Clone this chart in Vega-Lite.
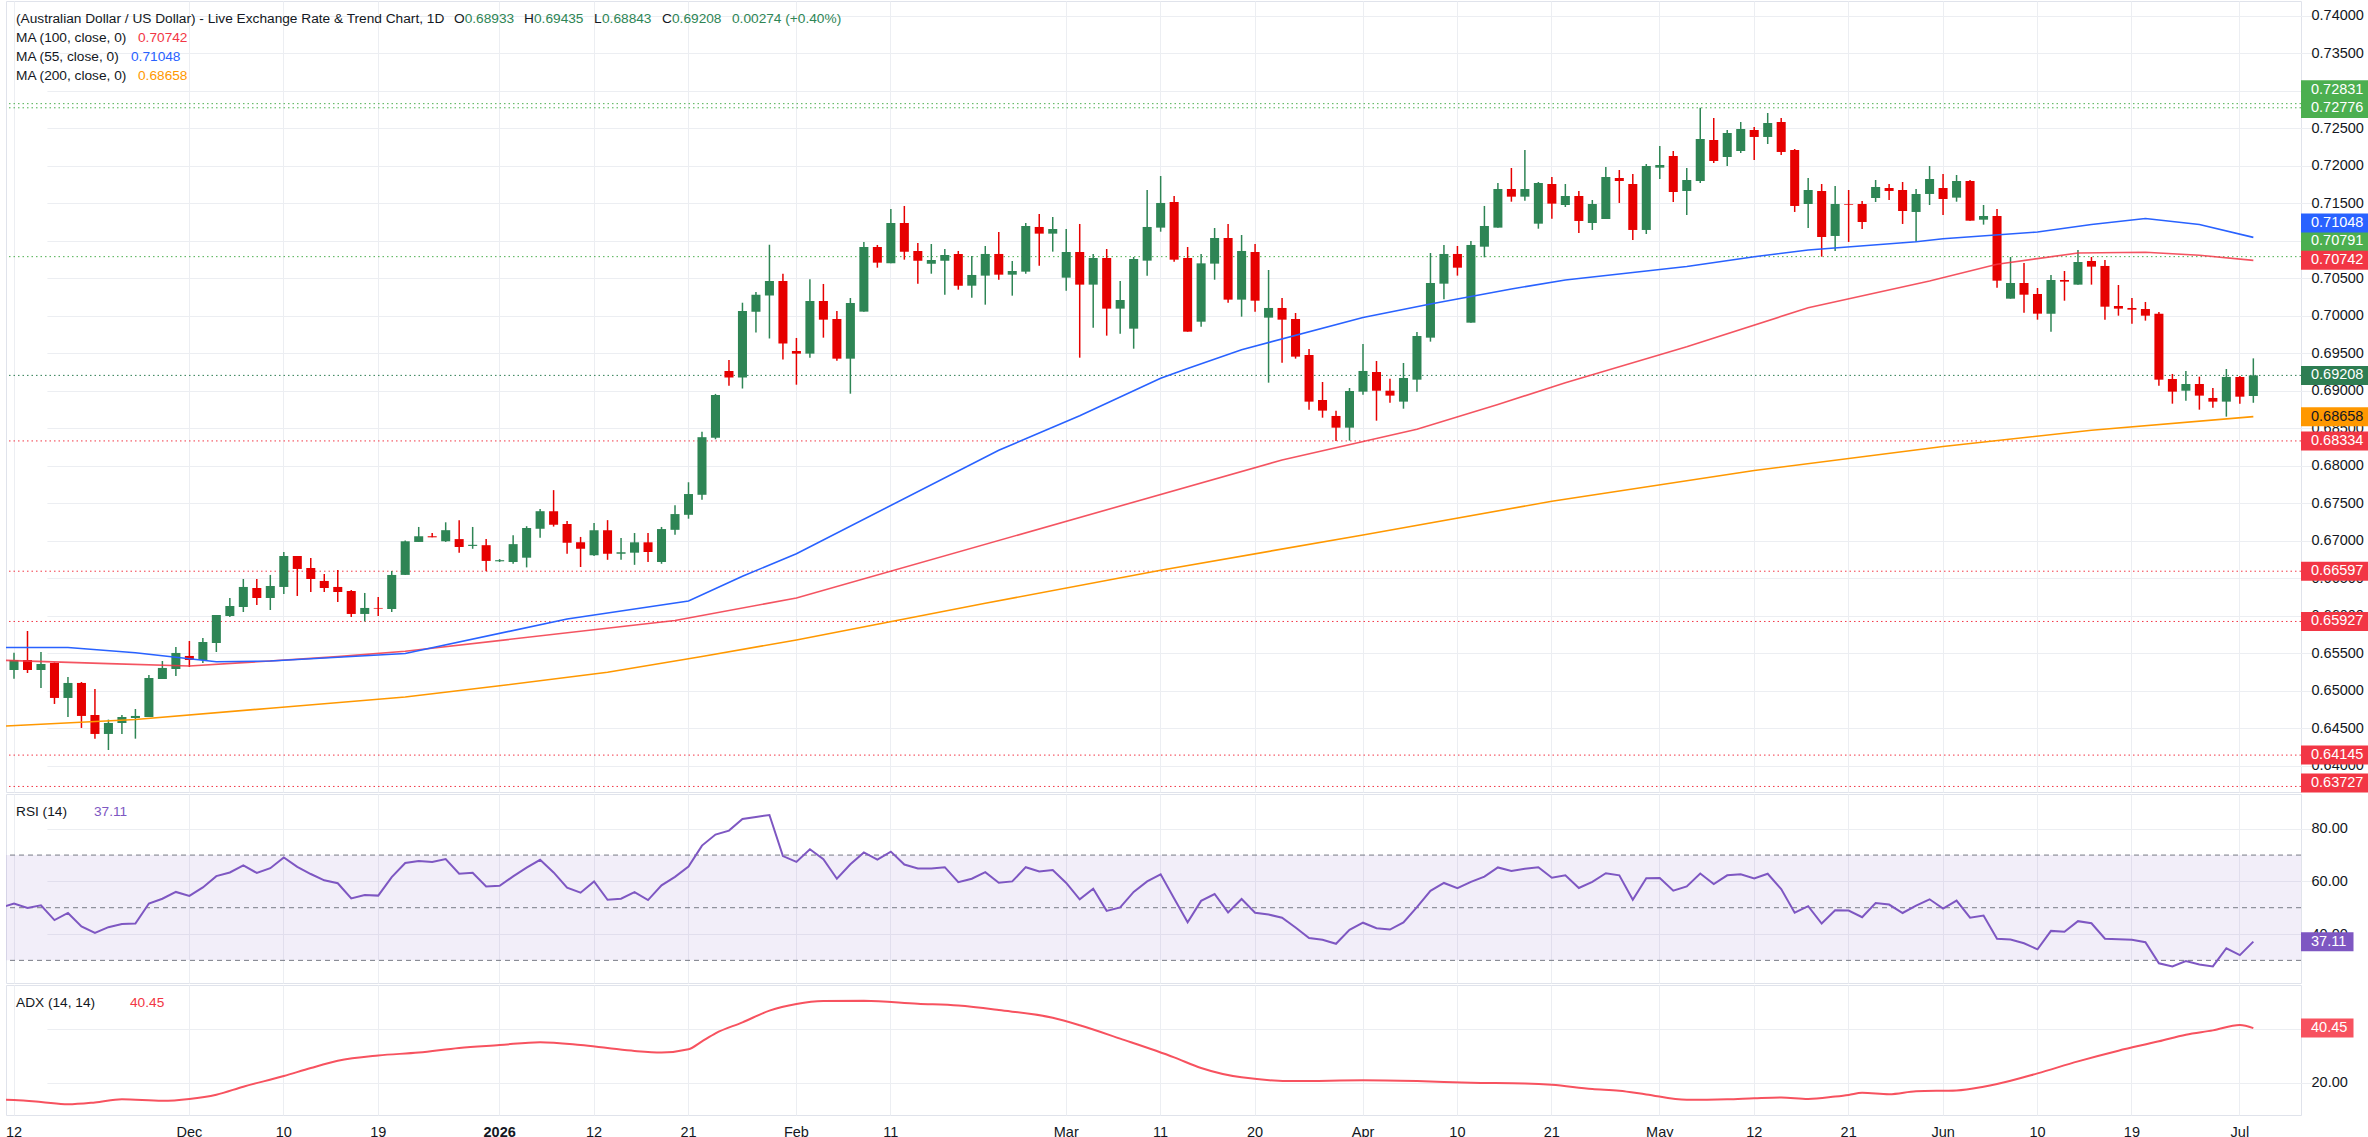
{
  "$schema": "https://vega.github.io/schema/vega-lite/v6.json",
  "padding": 0,
  "background": "#ffffff",
  "spacing": 0,
  "config": {
    "view": {"stroke": "#e0e3eb", "strokeWidth": 1},
    "font": "Liberation Sans",
    "axis": {"labelFont": "Liberation Sans", "labelFontSize": 14.5, "labelColor": "#131722", "gridColor": "#eceef2", "gridWidth": 1, "domain": false, "ticks": false, "title": null}
  },
  "resolve": {"scale": {"x": "shared"}},
  "datasets": {
    "bars": [
      {"d":"2025-11-11","rsi":50,"ma55":0.6558,"ma100":0.6541,"ma200":0.6453,"adx":13.6},
      {"d":"2025-11-12","o":0.6528,"h":0.65511,"l":0.65164,"c":0.65413,"rsi":51.6,"adx":13.5},
      {"d":"2025-11-13","o":0.65413,"h":0.658,"l":0.6524,"c":0.6528,"rsi":49.9},
      {"d":"2025-11-14","o":0.6528,"h":0.6552,"l":0.6504,"c":0.6536,"rsi":50.9,"adx":12.8},
      {"d":"2025-11-17","o":0.65373,"h":0.6538,"l":0.64827,"c":0.64907,"rsi":45.3},
      {"d":"2025-11-18","o":0.64907,"h":0.65187,"l":0.64653,"c":0.65107,"rsi":48.0,"ma55":0.6558,"adx":11.9},
      {"d":"2025-11-19","o":0.65107,"h":0.6512,"l":0.64507,"c":0.64667,"rsi":42.9},
      {"d":"2025-11-20","o":0.6468,"h":0.65027,"l":0.64364,"c":0.64427,"rsi":40.4,"adx":12.6},
      {"d":"2025-11-21","o":0.64427,"h":0.64618,"l":0.64213,"c":0.64573,"rsi":42.6,"ma100":0.65365},
      {"d":"2025-11-24","o":0.64573,"h":0.6468,"l":0.64427,"c":0.64653,"rsi":43.8,"adx":13.8},
      {"d":"2025-11-25","o":0.6464,"h":0.6476,"l":0.64364,"c":0.64667,"rsi":44.0,"ma55":0.6551,"ma200":0.6462},
      {"d":"2025-11-26","o":0.64653,"h":0.65213,"l":0.64653,"c":0.65173,"rsi":51.6},
      {"d":"2025-11-27","o":0.6516,"h":0.654,"l":0.6516,"c":0.65307,"rsi":53.4,"adx":13.2},
      {"d":"2025-11-28","o":0.65293,"h":0.65587,"l":0.652,"c":0.65507,"rsi":56.0},
      {"d":"2025-12-01","o":0.65467,"h":0.65667,"l":0.6532,"c":0.65413,"rsi":54.5,"ma55":0.6543,"ma100":0.65333,"adx":13.9},
      {"d":"2025-12-02","o":0.65413,"h":0.65707,"l":0.65373,"c":0.65653,"rsi":57.7},
      {"d":"2025-12-03","o":0.6564,"h":0.66013,"l":0.6552,"c":0.66013,"rsi":62.0,"ma55":0.6539,"adx":15.5},
      {"d":"2025-12-04","o":0.66,"h":0.6624,"l":0.65987,"c":0.66133,"rsi":63.4},
      {"d":"2025-12-05","o":0.6612,"h":0.66493,"l":0.66053,"c":0.66387,"rsi":66.1,"ma100":0.65378,"adx":18.5},
      {"d":"2025-12-08","o":0.66373,"h":0.66493,"l":0.66147,"c":0.6624,"rsi":63.2},
      {"d":"2025-12-09","o":0.6624,"h":0.66547,"l":0.6608,"c":0.664,"rsi":65.0,"ma55":0.654,"ma200":0.6477},
      {"d":"2025-12-10","o":0.66387,"h":0.66853,"l":0.66293,"c":0.668,"rsi":69.1,"adx":22.5},
      {"d":"2025-12-11","o":0.668,"h":0.668,"l":0.66267,"c":0.66627,"rsi":65.5},
      {"d":"2025-12-12","o":0.6664,"h":0.66773,"l":0.6632,"c":0.66493,"rsi":62.8,"adx":25.5},
      {"d":"2025-12-15","o":0.66467,"h":0.6656,"l":0.6632,"c":0.66373,"rsi":60.4},
      {"d":"2025-12-16","o":0.66387,"h":0.66613,"l":0.66187,"c":0.6632,"rsi":59.3,"ma55":0.6545,"ma100":0.65458,"adx":28.2},
      {"d":"2025-12-17","o":0.66333,"h":0.66347,"l":0.65987,"c":0.66027,"rsi":53.5},
      {"d":"2025-12-18","o":0.66027,"h":0.66307,"l":0.65927,"c":0.66107,"rsi":54.8},
      {"d":"2025-12-19","o":0.66107,"h":0.66253,"l":0.66,"c":0.66098,"rsi":54.6,"adx":30.2},
      {"d":"2025-12-22","o":0.66093,"h":0.666,"l":0.66053,"c":0.66547,"rsi":61.6},
      {"d":"2025-12-23","o":0.66548,"h":0.67006,"l":0.66548,"c":0.66996,"rsi":67.0,"ma55":0.655,"ma100":0.65529,"ma200":0.6492},
      {"d":"2025-12-24","o":0.66987,"h":0.67187,"l":0.66987,"c":0.67063,"rsi":67.7,"adx":31.3},
      {"d":"2025-12-25","o":0.67063,"h":0.67106,"l":0.67049,"c":0.67049,"rsi":67.4},
      {"d":"2025-12-26","o":0.66996,"h":0.67249,"l":0.66987,"c":0.67144,"rsi":68.5},
      {"d":"2025-12-29","o":0.67025,"h":0.67278,"l":0.66844,"c":0.6692,"rsi":62.9,"adx":33.0},
      {"d":"2025-12-30","o":0.66934,"h":0.67187,"l":0.66896,"c":0.66949,"rsi":63.3},
      {"d":"2025-12-31","o":0.66944,"h":0.67025,"l":0.66597,"c":0.66734,"rsi":58.1},
      {"d":"2026-01-01","o":0.66729,"h":0.66758,"l":0.6672,"c":0.66744,"rsi":58.3,"ma200":0.6507,"adx":34.1},
      {"d":"2026-01-02","o":0.6672,"h":0.67078,"l":0.66696,"c":0.66958,"rsi":61.9},
      {"d":"2026-01-05","o":0.66777,"h":0.67197,"l":0.66648,"c":0.67173,"rsi":65.2},
      {"d":"2026-01-06","o":0.67163,"h":0.67426,"l":0.67044,"c":0.67397,"rsi":68.2,"adx":35.2},
      {"d":"2026-01-07","o":0.67397,"h":0.67678,"l":0.67192,"c":0.67216,"rsi":63.4},
      {"d":"2026-01-08","o":0.67225,"h":0.67268,"l":0.6683,"c":0.66977,"rsi":57.6,"ma55":0.6596},
      {"d":"2026-01-09","o":0.66982,"h":0.67054,"l":0.66653,"c":0.66896,"rsi":55.7,"adx":34.1},
      {"d":"2026-01-12","o":0.66811,"h":0.6724,"l":0.66801,"c":0.67144,"rsi":60.0},
      {"d":"2026-01-13","o":0.67144,"h":0.67278,"l":0.66749,"c":0.6683,"rsi":53.0,"ma200":0.6525,"adx":33.0},
      {"d":"2026-01-14","o":0.6683,"h":0.6704,"l":0.66749,"c":0.66849,"rsi":53.4},
      {"d":"2026-01-15","o":0.66844,"h":0.67106,"l":0.66682,"c":0.66982,"rsi":55.9,"adx":31.9},
      {"d":"2026-01-16","o":0.66982,"h":0.67106,"l":0.6672,"c":0.66853,"rsi":52.9},
      {"d":"2026-01-19","o":0.6672,"h":0.67187,"l":0.66696,"c":0.67159,"rsi":58.5,"adx":31.3},
      {"d":"2026-01-20","o":0.67149,"h":0.67478,"l":0.67082,"c":0.67359,"rsi":61.7,"ma100":0.6594},
      {"d":"2026-01-21","o":0.67349,"h":0.67783,"l":0.67297,"c":0.67626,"rsi":65.6,"ma55":0.662,"adx":32.5},
      {"d":"2026-01-22","o":0.67616,"h":0.68456,"l":0.6755,"c":0.68384,"rsi":73.6,"ma200":0.6546,"adx":35.5},
      {"d":"2026-01-23","o":0.68375,"h":0.68961,"l":0.68356,"c":0.68947,"rsi":77.8,"adx":38.5},
      {"d":"2026-01-26","o":0.69266,"h":0.69414,"l":0.69071,"c":0.6918,"rsi":79.3},
      {"d":"2026-01-27","o":0.6918,"h":0.70177,"l":0.69033,"c":0.70067,"rsi":83.7,"ma55":0.6653,"adx":42.6},
      {"d":"2026-01-28","o":0.70058,"h":0.7032,"l":0.69781,"c":0.70282,"rsi":84.5},
      {"d":"2026-01-29","o":0.70272,"h":0.7095,"l":0.697,"c":0.70468,"rsi":85.2,"adx":47.0},
      {"d":"2026-01-30","o":0.70468,"h":0.70563,"l":0.69419,"c":0.69633,"rsi":69.6},
      {"d":"2026-02-02","o":0.69533,"h":0.69707,"l":0.69084,"c":0.69498,"rsi":67.4,"ma55":0.6683,"ma100":0.6624,"ma200":0.6568,"adx":49.5},
      {"d":"2026-02-03","o":0.69498,"h":0.70489,"l":0.69444,"c":0.702,"rsi":72.2},
      {"d":"2026-02-04","o":0.702,"h":0.70427,"l":0.69711,"c":0.69951,"rsi":68.4,"adx":50.6},
      {"d":"2026-02-05","o":0.6996,"h":0.70067,"l":0.69404,"c":0.69431,"rsi":61.0},
      {"d":"2026-02-06","o":0.69431,"h":0.7024,"l":0.68964,"c":0.70173,"rsi":66.5},
      {"d":"2026-02-09","o":0.70058,"h":0.70987,"l":0.70058,"c":0.7092,"rsi":71.0,"adx":50.7},
      {"d":"2026-02-10","o":0.7092,"h":0.70947,"l":0.70644,"c":0.70711,"rsi":68.3},
      {"d":"2026-02-11","o":0.70702,"h":0.71427,"l":0.70702,"c":0.7124,"rsi":71.3},
      {"d":"2026-02-12","o":0.7124,"h":0.71467,"l":0.70751,"c":0.70858,"rsi":66.4},
      {"d":"2026-02-13","o":0.70867,"h":0.70973,"l":0.70431,"c":0.70738,"rsi":64.9,"adx":49.6},
      {"d":"2026-02-16","o":0.70698,"h":0.7096,"l":0.70564,"c":0.70747,"rsi":64.9},
      {"d":"2026-02-17","o":0.70738,"h":0.70893,"l":0.70284,"c":0.70813,"rsi":65.4},
      {"d":"2026-02-18","o":0.70827,"h":0.70867,"l":0.70351,"c":0.70404,"rsi":59.7,"adx":48.9},
      {"d":"2026-02-19","o":0.70404,"h":0.708,"l":0.70244,"c":0.70547,"rsi":61.0},
      {"d":"2026-02-20","o":0.70538,"h":0.70933,"l":0.70151,"c":0.70827,"rsi":63.5,"ma200":0.6617},
      {"d":"2026-02-23","o":0.70827,"h":0.7112,"l":0.70484,"c":0.70551,"rsi":59.5,"ma55":0.6821,"adx":47.2},
      {"d":"2026-02-24","o":0.70551,"h":0.70733,"l":0.70271,"c":0.706,"rsi":60.0},
      {"d":"2026-02-25","o":0.70591,"h":0.7124,"l":0.70564,"c":0.712,"rsi":65.4},
      {"d":"2026-02-26","o":0.71187,"h":0.7136,"l":0.70671,"c":0.71098,"rsi":63.8},
      {"d":"2026-02-27","o":0.71098,"h":0.7132,"l":0.70858,"c":0.7116,"rsi":64.3,"adx":44.3},
      {"d":"2026-03-02","o":0.70511,"h":0.7116,"l":0.70338,"c":0.70853,"rsi":59.4},
      {"d":"2026-03-03","o":0.70853,"h":0.71227,"l":0.69444,"c":0.70418,"rsi":53.2,"ma55":0.6867,"adx":41.5},
      {"d":"2026-03-04","o":0.70418,"h":0.70827,"l":0.69844,"c":0.70773,"rsi":57.2},
      {"d":"2026-03-05","o":0.70773,"h":0.70893,"l":0.69738,"c":0.70098,"rsi":48.8},
      {"d":"2026-03-06","o":0.70098,"h":0.70467,"l":0.69764,"c":0.70213,"rsi":50.1,"adx":36.5},
      {"d":"2026-03-09","o":0.69831,"h":0.70787,"l":0.69564,"c":0.7076,"rsi":56.0},
      {"d":"2026-03-10","o":0.70738,"h":0.7168,"l":0.70538,"c":0.71187,"rsi":60.0},
      {"d":"2026-03-11","o":0.71178,"h":0.71867,"l":0.71124,"c":0.71507,"rsi":62.7,"ma55":0.6917,"ma200":0.6661},
      {"d":"2026-03-12","o":0.7152,"h":0.716,"l":0.70724,"c":0.70751,"rsi":53.5,"adx":29.5},
      {"d":"2026-03-13","o":0.70773,"h":0.7092,"l":0.69791,"c":0.69791,"rsi":44.5,"ma55":0.693},
      {"d":"2026-03-16","o":0.69924,"h":0.70827,"l":0.69858,"c":0.70702,"rsi":52.6,"adx":25.5},
      {"d":"2026-03-17","o":0.70698,"h":0.71173,"l":0.70484,"c":0.7104,"rsi":55.2},
      {"d":"2026-03-18","o":0.7104,"h":0.71227,"l":0.70178,"c":0.70218,"rsi":48.2},
      {"d":"2026-03-19","o":0.70218,"h":0.7108,"l":0.69991,"c":0.70867,"rsi":53.3,"ma55":0.6955,"adx":22.0},
      {"d":"2026-03-20","o":0.70853,"h":0.7096,"l":0.70058,"c":0.70204,"rsi":48.1},
      {"d":"2026-03-23","o":0.69978,"h":0.70613,"l":0.69111,"c":0.70107,"rsi":47.4},
      {"d":"2026-03-24","o":0.70107,"h":0.7024,"l":0.69378,"c":0.69951,"rsi":46.2,"ma100":0.6808},
      {"d":"2026-03-25","o":0.6996,"h":0.7004,"l":0.69431,"c":0.69458,"rsi":42.5,"adx":20.6},
      {"d":"2026-03-26","o":0.6948,"h":0.6956,"l":0.68751,"c":0.68858,"rsi":38.5},
      {"d":"2026-03-27","o":0.6888,"h":0.6912,"l":0.68644,"c":0.68738,"rsi":37.8},
      {"d":"2026-03-30","o":0.68667,"h":0.68738,"l":0.68334,"c":0.68511,"rsi":36.3},
      {"d":"2026-03-31","o":0.68511,"h":0.6904,"l":0.68338,"c":0.69,"rsi":41.6},
      {"d":"2026-04-01","o":0.68991,"h":0.69627,"l":0.68951,"c":0.69267,"rsi":44.3,"ma55":0.6998,"ma200":0.6708,"adx":20.9},
      {"d":"2026-04-02","o":0.69253,"h":0.694,"l":0.68604,"c":0.69004,"rsi":42.2},
      {"d":"2026-04-03","o":0.69004,"h":0.69164,"l":0.68844,"c":0.68938,"rsi":41.7},
      {"d":"2026-04-06","o":0.68858,"h":0.69373,"l":0.68764,"c":0.69173,"rsi":44.4},
      {"d":"2026-04-07","o":0.69151,"h":0.69787,"l":0.68991,"c":0.69733,"rsi":50.2,"ma100":0.6849,"adx":20.6},
      {"d":"2026-04-08","o":0.69711,"h":0.7084,"l":0.69658,"c":0.7044,"rsi":56.4,"ma55":0.7016},
      {"d":"2026-04-09","o":0.70431,"h":0.70947,"l":0.70222,"c":0.70827,"rsi":59.4},
      {"d":"2026-04-10","o":0.70827,"h":0.70933,"l":0.70538,"c":0.70644,"rsi":57.4},
      {"d":"2026-04-13","o":0.69911,"h":0.71,"l":0.69911,"c":0.70947,"rsi":59.8,"adx":20.0},
      {"d":"2026-04-14","o":0.70924,"h":0.71467,"l":0.70782,"c":0.712,"rsi":61.8},
      {"d":"2026-04-15","o":0.71178,"h":0.71773,"l":0.71178,"c":0.71693,"rsi":65.3,"ma100":0.6882},
      {"d":"2026-04-16","o":0.71693,"h":0.71973,"l":0.71524,"c":0.71591,"rsi":64.0,"ma55":0.7036},
      {"d":"2026-04-17","o":0.71591,"h":0.72213,"l":0.71538,"c":0.71693,"rsi":64.8,"adx":19.7},
      {"d":"2026-04-20","o":0.71231,"h":0.71787,"l":0.71164,"c":0.71773,"rsi":65.4},
      {"d":"2026-04-21","o":0.7176,"h":0.71853,"l":0.71298,"c":0.71498,"rsi":61.4,"ma200":0.6753,"adx":19.2},
      {"d":"2026-04-22","o":0.7148,"h":0.7176,"l":0.71453,"c":0.716,"rsi":62.3,"ma55":0.7048,"ma100":0.6911},
      {"d":"2026-04-23","o":0.716,"h":0.71667,"l":0.71107,"c":0.71267,"rsi":57.5},
      {"d":"2026-04-24","o":0.7124,"h":0.71547,"l":0.71147,"c":0.71493,"rsi":59.8,"adx":17.6},
      {"d":"2026-04-27","o":0.71293,"h":0.71987,"l":0.71293,"c":0.71853,"rsi":63.1},
      {"d":"2026-04-28","o":0.7184,"h":0.71947,"l":0.71507,"c":0.718,"rsi":62.3,"adx":17.0},
      {"d":"2026-04-29","o":0.7176,"h":0.71893,"l":0.71013,"c":0.71147,"rsi":53.0,"ma55":0.7058},
      {"d":"2026-04-30","o":0.71147,"h":0.72027,"l":0.71093,"c":0.72,"rsi":61.2,"adx":15.6},
      {"d":"2026-05-01","o":0.71978,"h":0.72267,"l":0.71827,"c":0.72013,"rsi":61.3},
      {"d":"2026-05-04","o":0.72133,"h":0.722,"l":0.7152,"c":0.71653,"rsi":56.5},
      {"d":"2026-05-05","o":0.71667,"h":0.71973,"l":0.71347,"c":0.71813,"rsi":58.1,"ma55":0.7066,"ma100":0.6959,"adx":13.6},
      {"d":"2026-05-06","o":0.718,"h":0.72776,"l":0.71773,"c":0.7236,"rsi":63.0},
      {"d":"2026-05-07","o":0.72347,"h":0.7264,"l":0.7204,"c":0.72067,"rsi":59.0},
      {"d":"2026-05-08","o":0.7212,"h":0.7248,"l":0.72,"c":0.7244,"rsi":62.3,"adx":13.8},
      {"d":"2026-05-11","o":0.722,"h":0.72587,"l":0.72173,"c":0.72493,"rsi":62.7},
      {"d":"2026-05-12","o":0.7248,"h":0.7252,"l":0.7208,"c":0.72387,"rsi":61.1,"ma55":0.7079,"ma200":0.6794,"adx":14.2},
      {"d":"2026-05-13","o":0.72387,"h":0.72707,"l":0.72293,"c":0.72573,"rsi":62.9},
      {"d":"2026-05-14","o":0.72587,"h":0.7264,"l":0.72147,"c":0.72187,"rsi":57.1,"adx":14.5},
      {"d":"2026-05-15","o":0.72213,"h":0.72227,"l":0.71387,"c":0.71467,"rsi":48.1},
      {"d":"2026-05-18","o":0.71493,"h":0.7184,"l":0.71173,"c":0.7168,"rsi":50.6,"ma55":0.7088,"ma100":0.7011,"adx":13.9},
      {"d":"2026-05-19","o":0.71667,"h":0.7176,"l":0.70791,"c":0.71053,"rsi":44.0},
      {"d":"2026-05-20","o":0.71067,"h":0.71733,"l":0.70867,"c":0.71493,"rsi":49.0,"adx":14.8},
      {"d":"2026-05-21","o":0.71493,"h":0.7168,"l":0.70987,"c":0.71484,"rsi":48.9,"adx":15.4},
      {"d":"2026-05-22","o":0.71493,"h":0.71533,"l":0.7116,"c":0.71253,"rsi":46.4,"adx":16.2},
      {"d":"2026-05-25","o":0.71573,"h":0.71813,"l":0.7152,"c":0.7172,"rsi":51.8},
      {"d":"2026-05-26","o":0.71707,"h":0.7176,"l":0.71547,"c":0.71667,"rsi":51.2,"adx":15.7},
      {"d":"2026-05-27","o":0.7168,"h":0.71787,"l":0.71227,"c":0.714,"rsi":48.0},
      {"d":"2026-05-28","o":0.71387,"h":0.71693,"l":0.70987,"c":0.71627,"rsi":50.8,"ma55":0.7099,"adx":16.8},
      {"d":"2026-05-29","o":0.71627,"h":0.72,"l":0.7148,"c":0.71827,"rsi":53.2,"ma100":0.70467},
      {"d":"2026-06-01","o":0.71707,"h":0.71893,"l":0.71347,"c":0.7156,"rsi":49.7,"ma55":0.7103,"ma200":0.6826},
      {"d":"2026-06-02","o":0.71578,"h":0.7188,"l":0.71524,"c":0.718,"rsi":52.7,"adx":17.1},
      {"d":"2026-06-03","o":0.718,"h":0.71813,"l":0.71271,"c":0.71271,"rsi":46.2},
      {"d":"2026-06-04","o":0.71284,"h":0.7148,"l":0.71218,"c":0.71333,"rsi":47.0,"adx":18.5},
      {"d":"2026-06-05","o":0.71333,"h":0.71427,"l":0.70378,"c":0.70471,"rsi":38.2,"ma100":0.7069,"adx":19.5},
      {"d":"2026-06-08","o":0.70231,"h":0.70787,"l":0.70231,"c":0.7044,"rsi":37.9},
      {"d":"2026-06-09","o":0.7044,"h":0.70707,"l":0.70044,"c":0.70284,"rsi":36.5},
      {"d":"2026-06-10","o":0.70293,"h":0.70373,"l":0.69951,"c":0.70031,"rsi":34.2,"ma55":0.7112,"adx":23.5},
      {"d":"2026-06-11","o":0.70031,"h":0.70547,"l":0.69791,"c":0.7048,"rsi":41.2},
      {"d":"2026-06-12","o":0.7048,"h":0.706,"l":0.70204,"c":0.70458,"rsi":40.9},
      {"d":"2026-06-15","o":0.70418,"h":0.7088,"l":0.70418,"c":0.7072,"rsi":44.9,"ma100":0.7084,"adx":28.0},
      {"d":"2026-06-16","o":0.70733,"h":0.70787,"l":0.70418,"c":0.70658,"rsi":44.1,"ma55":0.7122,"ma200":0.68476},
      {"d":"2026-06-17","o":0.70667,"h":0.70747,"l":0.69951,"c":0.70124,"rsi":38.2},
      {"d":"2026-06-18","o":0.70133,"h":0.70413,"l":0.70004,"c":0.70098,"rsi":38.0,"adx":32.0},
      {"d":"2026-06-19","o":0.70107,"h":0.7024,"l":0.69898,"c":0.70084,"rsi":37.8},
      {"d":"2026-06-22","o":0.70093,"h":0.70187,"l":0.69938,"c":0.70004,"rsi":36.9,"ma55":0.713,"ma100":0.7085},
      {"d":"2026-06-23","o":0.7003,"h":0.70053,"l":0.69071,"c":0.69151,"rsi":28.9,"adx":35.5},
      {"d":"2026-06-24","o":0.6916,"h":0.69227,"l":0.68831,"c":0.68991,"rsi":27.7},
      {"d":"2026-06-25","o":0.69004,"h":0.69267,"l":0.68871,"c":0.69093,"rsi":29.7,"adx":38.0},
      {"d":"2026-06-26","o":0.69093,"h":0.69191,"l":0.68751,"c":0.68938,"rsi":28.4,"ma55":0.7122,"ma100":0.7081},
      {"d":"2026-06-29","o":0.68907,"h":0.6904,"l":0.68778,"c":0.68858,"rsi":27.7,"adx":39.6},
      {"d":"2026-06-30","o":0.68858,"h":0.69293,"l":0.68658,"c":0.69187,"rsi":34.6},
      {"d":"2026-07-01","o":0.69187,"h":0.692,"l":0.68831,"c":0.68924,"rsi":32.0,"adx":41.6},
      {"d":"2026-07-02","o":0.68933,"h":0.69435,"l":0.68843,"c":0.69208,"rsi":37.11,"ma55":0.71048,"ma100":0.70742,"ma200":0.68658,"adx":40.45}
    ],
    "tags": [
      {"v":0.72831,"kind":"hi"},
      {"v":0.72776,"kind":"hi"},
      {"v":0.70791,"kind":"hi"},
      {"v":0.69208,"kind":"last"},
      {"v":0.68334,"kind":"lo"},
      {"v":0.66597,"kind":"lo"},
      {"v":0.65927,"kind":"lo"},
      {"v":0.64145,"kind":"lo"},
      {"v":0.63727,"kind":"lo"},
      {"v":0.71048,"kind":"ma55"},
      {"v":0.70742,"kind":"ma100"},
      {"v":0.68658,"kind":"ma200"}
    ]
  },
  "vconcat": [
    {
      "width": 2295,
      "height": 791,
      "layer": [
        {
          "data": {"name": "tags"},
          "transform": [{"filter": "datum.kind == 'hi' || datum.kind == 'lo' || datum.kind == 'last'"}],
          "mark": {"type": "rule", "strokeDash": [1.5, 3], "strokeWidth": 1},
          "encoding": {
            "y": {"field": "v", "type": "quantitative", "scale": {"domain": [0.63653, 0.742], "nice": false, "zero": false},
                  "axis": {"orient": "right", "values": [0.64,0.645,0.65,0.655,0.66,0.665,0.67,0.675,0.68,0.685,0.69,0.695,0.7,0.705,0.71,0.715,0.72,0.725,0.73,0.735,0.74], "format": ".5f", "grid": true, "labelPadding": 10}},
            "color": {"field": "kind", "type": "nominal", "legend": null,
                      "scale": {"domain": ["hi","lo","last","ma55","ma100","ma200"], "range": ["#4caf50","#f23645","#2e7d52","#2962ff","#f23645","#ff9800"]}}
          }
        },
        {
          "data": {"name": "bars"},
          "encoding": {
            "x": {"field": "d", "type": "ordinal",
                  "scale": {"type": "band", "range": [-12.235, 2254.085], "paddingInner": 0, "paddingOuter": 0},
                  "axis": {"values": ["2025-11-12","2025-12-01","2025-12-10","2025-12-19","2026-01-01","2026-01-12","2026-01-21","2026-02-02","2026-02-11","2026-03-02","2026-03-11","2026-03-20","2026-04-01","2026-04-10","2026-04-21","2026-05-01","2026-05-12","2026-05-21","2026-06-01","2026-06-10","2026-06-19","2026-07-01"],
                           "labels": false, "grid": true, "bandPosition": 0.5}}
          },
          "layer": [
            {
              "transform": [{"filter": "isValid(datum.o)"}],
              "mark": {"type": "rule", "strokeWidth": 1.5, "clip": true},
              "encoding": {
                "y": {"field": "l", "type": "quantitative", "scale": {"domain": [0.63653, 0.742], "nice": false, "zero": false},
                      "axis": {"orient": "right", "values": [0.64,0.645,0.65,0.655,0.66,0.665,0.67,0.675,0.68,0.685,0.69,0.695,0.7,0.705,0.71,0.715,0.72,0.725,0.73,0.735,0.74], "format": ".5f", "grid": true, "labelPadding": 10}},
                "y2": {"field": "h"},
                "color": {"condition": {"test": "datum.c >= datum.o", "value": "#2e8555"}, "value": "#e60000"}
              }
            },
            {
              "transform": [{"filter": "isValid(datum.o)"}],
              "mark": {"type": "bar", "width": {"band": 0.67}, "clip": true},
              "encoding": {
                "y": {"field": "o", "type": "quantitative", "scale": {"domain": [0.63653, 0.742], "nice": false, "zero": false},
                      "axis": {"orient": "right", "values": [0.64,0.645,0.65,0.655,0.66,0.665,0.67,0.675,0.68,0.685,0.69,0.695,0.7,0.705,0.71,0.715,0.72,0.725,0.73,0.735,0.74], "format": ".5f", "grid": true, "labelPadding": 10}},
                "y2": {"field": "c"},
                "color": {"condition": {"test": "datum.c >= datum.o", "value": "#2e8555"}, "value": "#e60000"}
              }
            },
            {
              "transform": [{"filter": "isValid(datum.ma200)"}],
              "mark": {"type": "line", "color": "#ff9800", "strokeWidth": 1.6, "clip": true},
              "encoding": {"y": {"field": "ma200", "type": "quantitative", "scale": {"domain": [0.63653, 0.742], "nice": false, "zero": false},
                      "axis": {"orient": "right", "values": [0.64,0.645,0.65,0.655,0.66,0.665,0.67,0.675,0.68,0.685,0.69,0.695,0.7,0.705,0.71,0.715,0.72,0.725,0.73,0.735,0.74], "format": ".5f", "grid": true, "labelPadding": 10}}}
            },
            {
              "transform": [{"filter": "isValid(datum.ma100)"}],
              "mark": {"type": "line", "color": "#f23645", "strokeWidth": 1.6, "opacity": 0.85, "clip": true},
              "encoding": {"y": {"field": "ma100", "type": "quantitative", "scale": {"domain": [0.63653, 0.742], "nice": false, "zero": false},
                      "axis": {"orient": "right", "values": [0.64,0.645,0.65,0.655,0.66,0.665,0.67,0.675,0.68,0.685,0.69,0.695,0.7,0.705,0.71,0.715,0.72,0.725,0.73,0.735,0.74], "format": ".5f", "grid": true, "labelPadding": 10}}}
            },
            {
              "transform": [{"filter": "isValid(datum.ma55)"}],
              "mark": {"type": "line", "color": "#2962ff", "strokeWidth": 1.6, "clip": true},
              "encoding": {"y": {"field": "ma55", "type": "quantitative", "scale": {"domain": [0.63653, 0.742], "nice": false, "zero": false},
                      "axis": {"orient": "right", "values": [0.64,0.645,0.65,0.655,0.66,0.665,0.67,0.675,0.68,0.685,0.69,0.695,0.7,0.705,0.71,0.715,0.72,0.725,0.73,0.735,0.74], "format": ".5f", "grid": true, "labelPadding": 10}}}
            }
          ]
        },
        {
          "data": {"name": "tags"},
          "mark": {"type": "rect", "x2Offset": 69,
                   "yOffset": {"expr": "(datum.v == 0.72831 ? -14 : datum.v == 0.71048 ? -14.4 : datum.v == 0.70791 ? -15.2 : datum.v == 0.63727 ? -3.5 : datum.v == 0.72776 ? 0.7 : 0) - 9.5"},
                   "y2Offset": {"expr": "(datum.v == 0.72831 ? -14 : datum.v == 0.71048 ? -14.4 : datum.v == 0.70791 ? -15.2 : datum.v == 0.63727 ? -3.5 : datum.v == 0.72776 ? 0.7 : 0) + 9.5"}},
          "encoding": {
            "x": {"value": "width"},
            "x2": {"value": "width"},
            "y": {"field": "v", "type": "quantitative", "scale": {"domain": [0.63653, 0.742], "nice": false, "zero": false},
                  "axis": {"orient": "right", "values": [0.64,0.645,0.65,0.655,0.66,0.665,0.67,0.675,0.68,0.685,0.69,0.695,0.7,0.705,0.71,0.715,0.72,0.725,0.73,0.735,0.74], "format": ".5f", "grid": true, "labelPadding": 10}},
            "y2": {"field": "v"},
            "color": {"field": "kind", "type": "nominal", "legend": null,
                      "scale": {"domain": ["hi","lo","last","ma55","ma100","ma200"], "range": ["#4caf50","#f23645","#2e7d52","#2962ff","#f23645","#ff9800"]}}
          }
        },
        {
          "data": {"name": "tags"},
          "mark": {"type": "text", "align": "left", "baseline": "middle", "dx": 10, "fontSize": 14.5,
                   "yOffset": {"expr": "datum.v == 0.72831 ? -14 : datum.v == 0.71048 ? -14.4 : datum.v == 0.70791 ? -15.2 : datum.v == 0.63727 ? -3.5 : datum.v == 0.72776 ? 0.7 : 0"}},
          "encoding": {
            "x": {"value": "width"},
            "y": {"field": "v", "type": "quantitative", "scale": {"domain": [0.63653, 0.742], "nice": false, "zero": false},
                  "axis": {"orient": "right", "values": [0.64,0.645,0.65,0.655,0.66,0.665,0.67,0.675,0.68,0.685,0.69,0.695,0.7,0.705,0.71,0.715,0.72,0.725,0.73,0.735,0.74], "format": ".5f", "grid": true, "labelPadding": 10}},
            "text": {"field": "v", "type": "quantitative", "format": ".5f"},
            "color": {"condition": {"test": "datum.kind == 'ma200'", "value": "#131722"}, "value": "#ffffff"}
          }
        },
        {"data": {"values": [{}]}, "mark": {"type": "text", "x": 10, "y": 18, "align": "left", "baseline": "middle", "fontSize": 13.7, "color": "#131722", "text": "(Australian Dollar / US Dollar) - Live Exchange Rate & Trend Chart, 1D"}},
        {"data": {"values": [{}]}, "mark": {"type": "text", "x": 448, "y": 18, "align": "left", "baseline": "middle", "fontSize": 13.7, "color": "#131722", "text": "O"}},
        {"data": {"values": [{}]}, "mark": {"type": "text", "x": 458.7, "y": 18, "align": "left", "baseline": "middle", "fontSize": 13.7, "color": "#2e8555", "text": "0.68933"}},
        {"data": {"values": [{}]}, "mark": {"type": "text", "x": 518, "y": 18, "align": "left", "baseline": "middle", "fontSize": 13.7, "color": "#131722", "text": "H"}},
        {"data": {"values": [{}]}, "mark": {"type": "text", "x": 528, "y": 18, "align": "left", "baseline": "middle", "fontSize": 13.7, "color": "#2e8555", "text": "0.69435"}},
        {"data": {"values": [{}]}, "mark": {"type": "text", "x": 588, "y": 18, "align": "left", "baseline": "middle", "fontSize": 13.7, "color": "#131722", "text": "L"}},
        {"data": {"values": [{}]}, "mark": {"type": "text", "x": 596, "y": 18, "align": "left", "baseline": "middle", "fontSize": 13.7, "color": "#2e8555", "text": "0.68843"}},
        {"data": {"values": [{}]}, "mark": {"type": "text", "x": 656, "y": 18, "align": "left", "baseline": "middle", "fontSize": 13.7, "color": "#131722", "text": "C"}},
        {"data": {"values": [{}]}, "mark": {"type": "text", "x": 666, "y": 18, "align": "left", "baseline": "middle", "fontSize": 13.7, "color": "#2e8555", "text": "0.69208"}},
        {"data": {"values": [{}]}, "mark": {"type": "text", "x": 726, "y": 18, "align": "left", "baseline": "middle", "fontSize": 13.7, "color": "#2e8555", "text": "0.00274 (+0.40%)"}},
        {"data": {"values": [{}]}, "mark": {"type": "text", "x": 10, "y": 37, "align": "left", "baseline": "middle", "fontSize": 13.7, "color": "#131722", "text": "MA (100, close, 0)"}},
        {"data": {"values": [{}]}, "mark": {"type": "text", "x": 132, "y": 37, "align": "left", "baseline": "middle", "fontSize": 13.7, "color": "#f23645", "text": "0.70742"}},
        {"data": {"values": [{}]}, "mark": {"type": "text", "x": 10, "y": 56, "align": "left", "baseline": "middle", "fontSize": 13.7, "color": "#131722", "text": "MA (55, close, 0)"}},
        {"data": {"values": [{}]}, "mark": {"type": "text", "x": 125, "y": 56, "align": "left", "baseline": "middle", "fontSize": 13.7, "color": "#2962ff", "text": "0.71048"}},
        {"data": {"values": [{}]}, "mark": {"type": "text", "x": 10, "y": 75, "align": "left", "baseline": "middle", "fontSize": 13.7, "color": "#131722", "text": "MA (200, close, 0)"}},
        {"data": {"values": [{}]}, "mark": {"type": "text", "x": 132, "y": 75, "align": "left", "baseline": "middle", "fontSize": 13.7, "color": "#ff9800", "text": "0.68658"}}
      ]
    },
    {
      "width": 2295,
      "height": 189,
      "layer": [
        {
          "data": {"values": [{"top": 70, "bottom": 30}]},
          "mark": {"type": "rect", "color": "#7e57c2", "opacity": 0.1},
          "encoding": {
            "y": {"field": "top", "type": "quantitative", "scale": {"domain": [21.4, 93.2], "nice": false, "zero": false},
                  "axis": {"orient": "right", "values": [40, 60, 80], "format": ".2f", "grid": true, "labelPadding": 10}},
            "y2": {"field": "bottom"}
          }
        },
        {
          "data": {"values": [{"lv": 70}, {"lv": 50}, {"lv": 30}]},
          "mark": {"type": "rule", "color": "#787b86", "strokeDash": [5, 4], "strokeWidth": 1},
          "encoding": {"y": {"field": "lv", "type": "quantitative", "scale": {"domain": [21.4, 93.2], "nice": false, "zero": false},
                  "axis": {"orient": "right", "values": [40, 60, 80], "format": ".2f", "grid": true, "labelPadding": 10}}}
        },
        {
          "data": {"name": "bars"},
          "layer": [
            {
              "mark": {"type": "rule", "opacity": 0},
              "encoding": {
                "x": {"field": "d", "type": "ordinal",
                      "scale": {"type": "band", "range": [-12.235, 2254.085], "paddingInner": 0, "paddingOuter": 0},
                      "axis": {"values": ["2025-11-12","2025-12-01","2025-12-10","2025-12-19","2026-01-01","2026-01-12","2026-01-21","2026-02-02","2026-02-11","2026-03-02","2026-03-11","2026-03-20","2026-04-01","2026-04-10","2026-04-21","2026-05-01","2026-05-12","2026-05-21","2026-06-01","2026-06-10","2026-06-19","2026-07-01"],
                               "labels": false, "grid": true, "bandPosition": 0.5}}
              }
            },
            {
              "transform": [{"filter": "isValid(datum.rsi)"}],
              "mark": {"type": "line", "color": "#7e57c2", "strokeWidth": 2, "clip": true},
              "encoding": {
                "x": {"field": "d", "type": "ordinal"},
                "y": {"field": "rsi", "type": "quantitative", "scale": {"domain": [21.4, 93.2], "nice": false, "zero": false},
                      "axis": {"orient": "right", "values": [40, 60, 80], "format": ".2f", "grid": true, "labelPadding": 10}}
              }
            }
          ]
        },
        {
          "data": {"values": [{"v": 37.11}]},
          "mark": {"type": "rect", "color": "#7e57c2", "x2Offset": 52.5, "yOffset": -9.5, "y2Offset": 9.5},
          "encoding": {
            "x": {"value": "width"}, "x2": {"value": "width"},
            "y": {"field": "v", "type": "quantitative", "scale": {"domain": [21.4, 93.2], "nice": false, "zero": false},
                  "axis": {"orient": "right", "values": [40, 60, 80], "format": ".2f", "grid": true, "labelPadding": 10}},
            "y2": {"field": "v"}
          }
        },
        {
          "data": {"values": [{"v": 37.11}]},
          "mark": {"type": "text", "color": "#ffffff", "align": "left", "baseline": "middle", "dx": 10, "fontSize": 14.5},
          "encoding": {
            "x": {"value": "width"},
            "y": {"field": "v", "type": "quantitative", "scale": {"domain": [21.4, 93.2], "nice": false, "zero": false},
                  "axis": {"orient": "right", "values": [40, 60, 80], "format": ".2f", "grid": true, "labelPadding": 10}},
            "text": {"field": "v", "type": "quantitative", "format": ".2f"}
          }
        },
        {"data": {"values": [{}]}, "mark": {"type": "text", "x": 10, "y": 18, "align": "left", "baseline": "middle", "fontSize": 13.7, "color": "#131722", "text": "RSI (14)"}},
        {"data": {"values": [{}]}, "mark": {"type": "text", "x": 88, "y": 18, "align": "left", "baseline": "middle", "fontSize": 13.7, "color": "#7e57c2", "text": "37.11"}}
      ]
    },
    {
      "width": 2295,
      "height": 130,
      "layer": [
        {
          "data": {"name": "bars"},
          "layer": [
            {
              "mark": {"type": "rule", "opacity": 0},
              "encoding": {
                "x": {"field": "d", "type": "ordinal",
                      "scale": {"type": "band", "range": [-12.235, 2254.085], "paddingInner": 0, "paddingOuter": 0},
                      "axis": {"values": ["2025-11-12","2025-12-01","2025-12-10","2025-12-19","2026-01-01","2026-01-12","2026-01-21","2026-02-02","2026-02-11","2026-03-02","2026-03-11","2026-03-20","2026-04-01","2026-04-10","2026-04-21","2026-05-01","2026-05-12","2026-05-21","2026-06-01","2026-06-10","2026-06-19","2026-07-01"],
                               "grid": true, "bandPosition": 0.5, "labelPadding": 10, "labelAngle": 0,
                               "labelExpr": "utcFormat(toDate(datum.value), '%m-%d') == '01-01' ? utcFormat(toDate(datum.value), '%Y') : (utcdate(toDate(datum.value)) <= 3 ? utcFormat(toDate(datum.value), '%b') : utcFormat(toDate(datum.value), '%-d'))",
                               "labelFontWeight": {"condition": {"test": "datum.value == '2026-01-01'", "value": "bold"}, "value": "normal"}}}
              }
            },
            {
              "transform": [{"filter": "isValid(datum.adx)"}],
              "mark": {"type": "line", "color": "#f7525f", "strokeWidth": 2, "clip": true, "interpolate": "monotone"},
              "encoding": {
                "x": {"field": "d", "type": "ordinal"},
                "y": {"field": "adx", "type": "quantitative", "scale": {"domain": [7.9, 56.6], "nice": false, "zero": false},
                      "axis": {"orient": "right", "values": [20, 40], "format": ".2f", "grid": true, "labelPadding": 10}}
              }
            }
          ]
        },
        {
          "data": {"values": [{"v": 40.45}]},
          "mark": {"type": "rect", "color": "#f7525f", "x2Offset": 52.5, "yOffset": -9.5, "y2Offset": 9.5},
          "encoding": {
            "x": {"value": "width"}, "x2": {"value": "width"},
            "y": {"field": "v", "type": "quantitative", "scale": {"domain": [7.9, 56.6], "nice": false, "zero": false},
                  "axis": {"orient": "right", "values": [20, 40], "format": ".2f", "grid": true, "labelPadding": 10}},
            "y2": {"field": "v"}
          }
        },
        {
          "data": {"values": [{"v": 40.45}]},
          "mark": {"type": "text", "color": "#ffffff", "align": "left", "baseline": "middle", "dx": 10, "fontSize": 14.5},
          "encoding": {
            "x": {"value": "width"},
            "y": {"field": "v", "type": "quantitative", "scale": {"domain": [7.9, 56.6], "nice": false, "zero": false},
                  "axis": {"orient": "right", "values": [20, 40], "format": ".2f", "grid": true, "labelPadding": 10}},
            "text": {"field": "v", "type": "quantitative", "format": ".2f"}
          }
        },
        {"data": {"values": [{}]}, "mark": {"type": "text", "x": 10, "y": 18, "align": "left", "baseline": "middle", "fontSize": 13.7, "color": "#131722", "text": "ADX (14, 14)"}},
        {"data": {"values": [{}]}, "mark": {"type": "text", "x": 124, "y": 18, "align": "left", "baseline": "middle", "fontSize": 13.7, "color": "#f23645", "text": "40.45"}}
      ]
    }
  ]
}
